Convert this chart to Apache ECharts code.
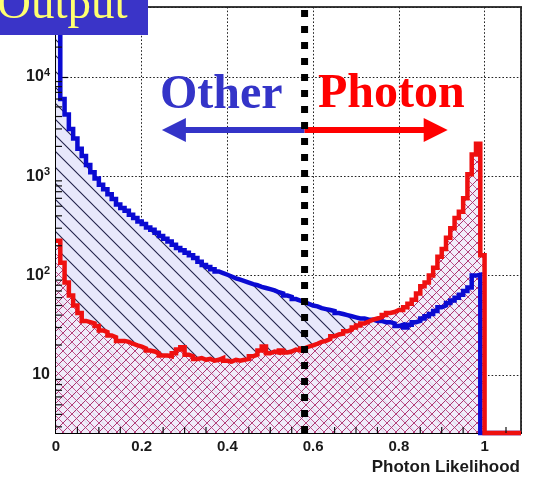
<!DOCTYPE html>
<html>
<head>
<meta charset="utf-8">
<script src="https://cdn.jsdelivr.net/npm/echarts@6/dist/echarts.min.js"></script>
<style>
  html,body{margin:0;padding:0;background:#fff;}
  #chart{width:536px;height:478px;}
</style>
</head>
<body>
<div id="chart"></div>
<script>
'use strict';

/* ---------- data ---------- */
const BIN_W = 0.01;
const X_MAX = 1.085;
const Y_MIN = 2.6, Y_MAX = 50700;
const CUT = 0.58;                 // photon likelihood cut
const ARROW_Y = 2930;
const OTHER_END = 0.275, PHOTON_END = 0.886;

// "Other" (blue), counts per 0.01 bin from 0 to 1
const OTHER = [
  50000, 6000, 4200, 3000, 2400, 1900, 1600, 1300, 1100, 950,
  820, 740, 660, 590, 520, 480, 450, 410, 380, 350,
  330, 305, 290, 270, 250, 235, 220, 205, 190, 180,
  170, 160, 150, 138, 128, 122, 116, 110, 106, 102,
  98, 94, 91, 88, 85, 82, 80, 77, 75, 73,
  71, 68, 66, 63, 61, 58, 56, 54, 52, 50,
  49, 47, 46, 45, 44, 42, 41, 40, 39, 38,
  37, 37, 36, 36, 35, 35, 34, 34, 33, 31,
  32, 30, 32, 34, 35, 37, 39, 41, 44, 48,
  50, 53, 56, 60, 64, 70, 76, 100, 102, 0
];
// "Photon" (red), counts per 0.01 bin from 0 to 1
const PHOTON = [
  225, 135, 85, 63, 50, 42, 35, 34, 33, 31,
  28, 27, 25, 24, 22, 22, 21.5, 20.6, 19.8, 19.3,
  18.5, 17.6, 17.2, 16.5, 15.7, 15.7, 15.4, 16.5, 18, 19,
  16, 15.4, 14.5, 14.8, 14.2, 14.5, 13.9, 14.2, 14.8, 13.9,
  13.6, 14.2, 13.9, 14.2, 14.5, 15.4, 16, 17.6, 19.3, 16.5,
  17.2, 16.8, 17.6, 16.8, 17.2, 18, 17.6, 18.5, 19.3, 19.8,
  20.6, 21.5, 22, 23, 24.5, 25.5, 26, 27.5, 28.5, 30,
  31.5, 33, 34.5, 36, 37, 38, 40, 42, 43, 45,
  45, 48, 52, 57, 66, 78, 85, 100, 120, 155,
  185, 240, 300, 380, 440, 600, 1050, 1660, 2130, 160
];

const X_MINOR = [0.05,0.1,0.15,0.25,0.3,0.35,0.45,0.5,0.55,0.65,0.7,0.75,0.85,0.9,0.95,1.05];
const Y_MINOR = [3,4,5,6,7,8,9, 20,30,40,50,60,70,80,90, 200,300,400,500,600,700,800,900,
                 2000,3000,4000,5000,6000,7000,8000,9000, 20000,30000,40000,50000];

const C = {
  blue:'#0a0ad2', red:'#ee1010', boxBlue:'#3a34c8', textBlue:'#3434c8', yellow:'#ffff70',
  serif:'"Liberation Serif","DejaVu Serif",serif', sans:'"Liberation Sans",Arial,sans-serif',
};

/* ---------- hatch patterns ---------- */
function tile(size, bg, strokes){
  const cv = document.createElement('canvas');
  cv.width = size; cv.height = size;
  const g = cv.getContext('2d');
  g.fillStyle = bg; g.fillRect(0,0,size,size);
  strokes.forEach(([dir,color,w])=>{
    g.strokeStyle = color; g.lineWidth = w;
    g.beginPath();
    for(const o of [-size,0,size]){
      if(dir==='\\'){ g.moveTo(o-1,-1); g.lineTo(o+size+1,size+1); }
      else { g.moveTo(o-1,size+1); g.lineTo(o+size+1,-1); }
    }
    g.stroke();
  });
  return cv;
}
const bluePattern = tile(16, '#e8e8fb', [['\\','#22224a',1.1]]);
const redPattern = tile(9, 'rgba(240,236,250,0.92)', [['\\','#c2558e',1],['/','#a8346e',1]]);

/* ---------- histogram points (step at bin edges) ---------- */
function histPoints(vals){
  const pts = vals.map((v,i)=>[+(i*BIN_W).toFixed(2), v || Y_MIN]);
  pts.push([1.0, Y_MIN], [X_MAX, Y_MIN]);
  return pts;
}
const otherPts = histPoints(OTHER), photonPts = histPoints(PHOTON);

function areaSeries(data, pattern, z){
  return {type:'line', step:'end', data, symbol:'none', clip:false, z, silent:true,
    lineStyle:{width:0, opacity:0}, areaStyle:{color:{image:pattern, repeat:'repeat'}, origin:'start', opacity:1}};
}
function lineSeries(data, color, z){
  return {type:'line', step:'end', data, symbol:'none', clip:false, z, silent:true,
    lineStyle:{color, width:4.5, join:'miter'}};
}
function tickSeries(data, vertical){
  return {type:'custom', coordinateSystem:'cartesian2d', clip:false, silent:true, z:6, data,
    renderItem:(p, api)=>{
      const pt = api.coord([api.value(0), api.value(1)]);
      const shape = vertical ? {x1:pt[0], y1:pt[1], x2:pt[0], y2:pt[1]-6}
                             : {x1:pt[0], y1:pt[1], x2:pt[0]+6, y2:pt[1]};
      return {type:'line', shape, style:{stroke:'#111', lineWidth:1.2}};
    }};
}

const chart = echarts.init(document.getElementById('chart'), null, {renderer:'canvas'});
const dotted = {color:'#222', width:1, type:[1.6,2]};

chart.setOption({
  animation:false,
  grid:{left:56, right:15, top:7, bottom:45, show:true, borderColor:'#3a3a3a', borderWidth:2, backgroundColor:'transparent'},
  xAxis:{
    type:'value', min:0, max:X_MAX, interval:0.2,
    axisLine:{show:true, onZero:false, lineStyle:{color:'#000', width:2}},
    axisTick:{show:true, inside:true, length:11, lineStyle:{color:'#000', width:1.2}},
    axisLabel:{color:'#1a1a1a', fontFamily:C.sans, fontWeight:'bold', fontSize:15, margin:6, showMaxLabel:false},
    splitLine:{show:true, lineStyle:dotted},
  },
  yAxis:{
    type:'log', logBase:10, min:Y_MIN, max:Y_MAX,
    axisLine:{show:true, lineStyle:{color:'#000', width:2}},
    axisTick:{show:true, inside:true, length:12, lineStyle:{color:'#000', width:1.2}},
    axisLabel:{
      showMinLabel:false, showMaxLabel:false, margin:6,
      formatter:v=>{
        const e = Math.log10(v);
        if(Math.abs(e-Math.round(e))>1e-6) return '';
        const n = Math.round(e);
        return n===1 ? '{b|10}' : '{b|10}{s|'+n+'}';
      },
      rich:{
        b:{color:'#1a1a1a', fontFamily:C.sans, fontWeight:'bold', fontSize:16},
        s:{color:'#1a1a1a', fontFamily:C.sans, fontWeight:'bold', fontSize:11, padding:[0,0,9,0]},
      },
    },
    splitLine:{show:true, lineStyle:dotted},
  },
  series:[
    areaSeries(otherPts, bluePattern, 1),
    areaSeries(photonPts, redPattern, 2),
    lineSeries(otherPts, C.blue, 3),
    lineSeries(photonPts, C.red, 4),
    tickSeries(X_MINOR.map(x=>[x, Y_MIN]), true),
    tickSeries(Y_MINOR.map(y=>[0, y]), false),
    {
      type:'line', data:[[CUT, Y_MIN],[CUT, Y_MAX]], symbol:'none', clip:false, z:8, silent:true,
      lineStyle:{color:'#000', width:7, type:[7,9]},
      markLine:{
        silent:true, symbol:['none','triangle'], symbolSize:24, label:{show:false},
        data:[
          [{coord:[CUT, ARROW_Y], lineStyle:{color:C.textBlue, width:6, type:'solid'}}, {coord:[OTHER_END, ARROW_Y]}],
          [{coord:[CUT, ARROW_Y], lineStyle:{color:'#ff0000', width:6, type:'solid'}}, {coord:[PHOTON_END, ARROW_Y]}],
        ],
      },
    },
  ],
  graphic:[
    {type:'rect', left:0, top:0, z:100, shape:{width:148, height:35}, style:{fill:C.boxBlue}},
    {type:'text', x:-3, y:6, z:101, style:{text:'Output', fill:C.yellow, font:'47px '+C.serif, verticalAlign:'middle'}},
    {type:'text', x:160, y:96, z:101, style:{text:'Other', fill:C.textBlue, font:'bold 48px '+C.serif, verticalAlign:'middle'}},
    {type:'text', x:318, y:95, z:101, style:{text:'Photon', fill:'#ff0000', font:'bold 48px '+C.serif, verticalAlign:'middle'}},
    {type:'text', x:520, y:467, z:101, style:{text:'Photon Likelihood', fill:'#1a1a1a', font:'bold 17px '+C.sans, align:'right', verticalAlign:'middle'}},
  ],
});
</script>
</body>
</html>
